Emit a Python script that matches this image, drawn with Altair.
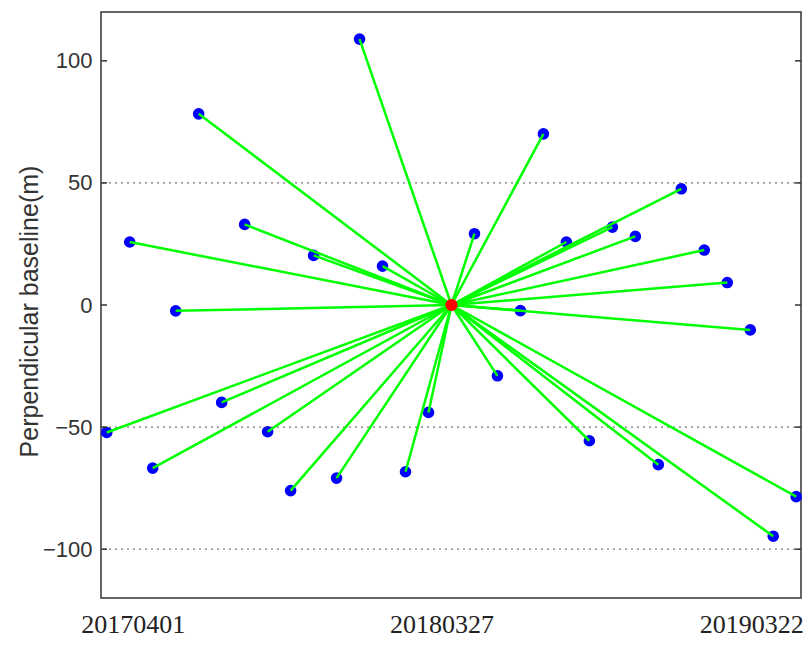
import altair as alt
import pandas as pd

# Acquisition dates (24-day repeat) and perpendicular baselines (m)
dates = [
    "2017-04-01", "2017-04-25", "2017-05-19", "2017-06-12", "2017-07-06", "2017-07-30",
    "2017-08-23", "2017-09-16", "2017-10-10", "2017-11-03", "2017-11-27", "2017-12-21",
    "2018-01-14", "2018-02-07", "2018-03-03",
    "2018-04-20", "2018-05-14", "2018-06-07", "2018-07-01", "2018-07-25", "2018-08-18",
    "2018-09-11", "2018-10-05", "2018-10-29", "2018-11-22", "2018-12-16", "2019-01-09",
    "2019-02-02", "2019-02-26", "2019-03-22",
]
bperp = [
    -52.2, 25.8, -66.8, -2.4, 78.3, -39.9,
    33.0, -51.9, -76.0, 20.3, -70.9, 108.9,
    15.9, -68.3, -44.0,
    29.2, -29.0, -2.3, 70.1, 25.8, -55.6,
    31.9, 28.1, -65.4, 47.6, 22.5, 9.2,
    -10.2, -94.7, -78.5,
]
master_date = "2018-03-27"
master_bperp = 0.0

y_ticks = [100, 50, 0, -50, -100]
grid_levels = [50, -50, -100]
x_label_dates = [(2017, 4, 1), (2018, 3, 27), (2019, 3, 22)]
x_label_text = ["20170401", "20180327", "20190322"]
x_label_shift = [26, -10, -45]

W, H = 700, 586

slaves = pd.DataFrame({
    "date": [d + "T00:00:00" for d in dates],
    "bperp": bperp,
    "mdate": master_date + "T00:00:00",
    "mbperp": master_bperp,
})
master = pd.DataFrame({"date": [master_date + "T00:00:00"], "bperp": [master_bperp]})
grid = pd.DataFrame({"bperp": grid_levels})
ticks = pd.DataFrame({"bperp": y_ticks})

x_scale = alt.Scale(domain=[alt.DateTime(year=2017, month=3, date=26),
                            alt.DateTime(year=2019, month=3, date=27)], nice=False)
y_scale = alt.Scale(domain=[-120, 120], nice=False, zero=False)

offset_cond = [
    {"test": f"timeFormat(datum.value, '%Y%m%d') == '{t}'", "value": s}
    for t, s in zip(x_label_text, x_label_shift)
]

x_axis = alt.Axis(
    values=[alt.DateTime(year=y, month=m, date=d) for (y, m, d) in x_label_dates],
    format="%Y%m%d", formatType="time",
    ticks=False, tickSize=0, domain=False, grid=False,
    labelFont="Liberation Serif", labelFontSize=26, labelColor="#222222",
    labelPadding=13, labelFlush=False, labelOverlap=False,
    labelOffset={"condition": offset_cond, "value": 0},
    title=None,
)
y_axis = alt.Axis(
    values=y_ticks, ticks=False, tickSize=0, domain=False, grid=False,
    labelFont="Liberation Sans", labelFontSize=22, labelColor="#333333",
    labelPadding=9,
    title="Perpendicular baseline(m)", titleFont="Liberation Sans",
    titleFontSize=25, titleFontWeight="normal", titleColor="#333333",
    titleX=-64, titleY=299, titleBaseline="alphabetic",
)

X = alt.X("date:T", scale=x_scale, axis=x_axis)
Y = alt.Y("bperp:Q", scale=y_scale, axis=y_axis)

grid_layer = alt.Chart(grid).mark_rule(
    color="#555555", strokeWidth=1, strokeDash=[2, 4]
).encode(y=Y)

tick_left = alt.Chart(ticks).mark_rule(color="#333333", strokeWidth=1.5).encode(
    y=Y, x=alt.value(0), x2=alt.value(6),
)
tick_right = alt.Chart(ticks).mark_rule(color="#333333", strokeWidth=1.5).encode(
    y=Y, x=alt.value(W - 6), x2=alt.value(W),
)

points = alt.Chart(slaves).mark_point(
    filled=True, shape="circle", size=135, color="#0000FF", opacity=1
).encode(x=X, y=Y)

lines = alt.Chart(slaves).mark_rule(color="#00FF00", strokeWidth=2.5).encode(
    x=X, y=Y, x2="mdate:T", y2="mbperp:Q",
)

master_pt = alt.Chart(master).mark_point(
    filled=True, shape="circle", size=150, color="#FF0000", opacity=1
).encode(x=X, y=Y)

chart = alt.layer(
    points, grid_layer, tick_left, tick_right, lines, master_pt
).properties(
    width=W, height=H,
    autosize=alt.AutoSizeParams(type="none"),
    padding={"left": 93, "top": 4, "right": 2, "bottom": 40},
).configure(
    background="white"
).configure_view(
    stroke="#333333", strokeWidth=1.5
)

chart.save("out.html", embed_options={"renderer": "svg", "actions": False})
